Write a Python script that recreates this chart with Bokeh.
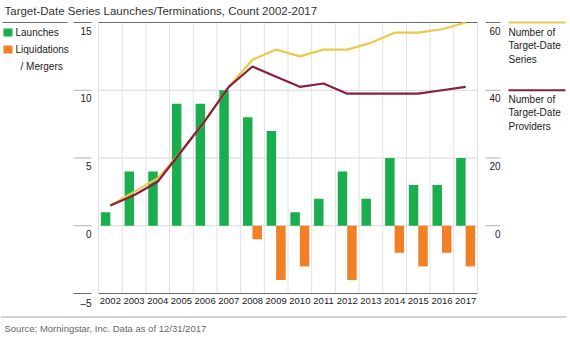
from bokeh.plotting import figure
from bokeh.models import Range1d, Label, BoxAnnotation, ColumnDataSource
from bokeh.core.properties import value
from bokeh.transform import dodge
from bokeh.embed import file_html
from bokeh.resources import INLINE

# ---- data ----
years = ["2002", "2003", "2004", "2005", "2006", "2007", "2008", "2009",
         "2010", "2011", "2012", "2013", "2014", "2015", "2016", "2017"]
launches = [1, 4, 4, 9, 9, 10, 8, 7, 1, 2, 4, 2, 5, 3, 3, 5]
liquidations = [0, 0, 0, 0, 0, 0, -1, -4, -3, 0, -4, 0, -2, -3, -2, -3]
num_series = [6, 10, 14, 22, 31, 41, 49, 52, 50, 52, 52, 54, 57, 57, 58, 60]
num_providers = [6, 9, 13, 22, 31, 41, 47, 44, 41, 42, 39, 39, 39, 39, 40, 41]
left_ticks = [-5, 0, 5, 10, 15]
right_ticks = [0, 20, 40, 60]

title_text = "Target-Date Series Launches/Terminations, Count 2002-2017"
source_text = "Source: Morningstar, Inc. Data as of 12/31/2017"

FONT = "Liberation Sans"
GREEN = "#1aae4f"
ORANGE = "#f07f26"
YELLOW = "#ebc94a"
MAROON = "#8a1f3e"
GRID = "#d6d6d6"
VGRID = "#e2e2e2"
DARK = "#6e6e6e"
TXT = "#222222"

# ---- geometry: the frame covers the whole canvas; the plot area sits inside it ----
W, H = 570, 345
PL, PR, PT, PB = 98, 477, 22, 293
n = len(years)
ymin, ymax = min(left_ticks), max(left_ticks)
rmax = max(right_ticks)
rfac = rmax / ymax
xs = (PR - PL) / n
ys = (PB - PT) / (ymax - ymin)
x_start = -0.5 - PL / xs
x_end = n - 0.5 + (W - PR) / xs
y_end = ymax + PT / ys
y_start = ymin - (H - PB) / ys


def px_x(px):
    return x_start + px / xs


def px_dy(d):
    return d / ys


idx = list(range(n))
src = ColumnDataSource(dict(x=idx, year=years, launches=launches, liq=liquidations,
                            series=num_series, providers=num_providers))

p = figure(width=W, height=H, output_backend="svg", toolbar_location=None,
           x_range=Range1d(x_start, x_end), y_range=Range1d(y_start, y_end),
           x_axis_type=None, y_axis_type=None, min_border=0,
           outline_line_color=None, background_fill_color="white")
p.extra_y_ranges = {"right": Range1d(y_start * rfac, y_end * rfac)}
p.grid.visible = False

lo, hi = -0.5, n - 0.5

# grid
inner = [t for t in left_ticks if ymin < t < ymax]
p.segment(x0=lo, x1=hi, y0=inner, y1=inner, line_color=GRID, line_width=1)
bounds = [i - 0.5 for i in range(n + 1)]
p.segment(x0=bounds, x1=bounds, y0=ymin, y1=ymax, line_color=VGRID, line_width=1)

# bars
p.vbar(x=dodge("x", -0.2, range=p.x_range), top="launches", bottom=0, width=0.4,
       source=src, fill_color=GREEN, line_color=None)
p.vbar(x=dodge("x", 0.2, range=p.x_range), top="liq", bottom=0, width=0.4,
       source=src, fill_color=ORANGE, line_color=None)

# frame top and bottom rules
p.segment(x0=lo, x1=hi, y0=[ymax, ymin], y1=[ymax, ymin], line_color=DARK, line_width=1)

# lines
p.line(x="x", y="series", source=src, y_range_name="right", line_color=YELLOW, line_width=2.2)
p.line(x="x", y="providers", source=src, y_range_name="right", line_color=MAROON, line_width=2.2)

# left axis: rules and labels
tick_cols = [DARK if t in (ymin, ymax) else "#b0b0b0" for t in left_ticks]
p.segment(x0=px_x(73), x1=px_x(91), y0=left_ticks, y1=left_ticks,
          line_color=tick_cols, line_width=1)
p.text(x=px_x(91), y=[t - px_dy(4) for t in left_ticks],
       text=[str(t).replace("-", "\u2013") for t in left_ticks],
       text_align="right", text_baseline="top", text_font=value(FONT),
       text_font_size="10px", text_color=TXT)

# right axis: rules and labels
rcols = [DARK if t == rmax else "#b0b0b0" for t in right_ticks]
p.segment(x0=px_x(485), x1=px_x(500), y0=right_ticks, y1=right_ticks, y_range_name="right",
          line_color=rcols, line_width=1)
p.text(x=px_x(500), y=[t - px_dy(4) * rfac for t in right_ticks], y_range_name="right",
       text=[str(t) for t in right_ticks], text_align="right", text_baseline="top",
       text_font=value(FONT), text_font_size="10px", text_color=TXT)

# category labels
p.text(x=idx, y=ymin - px_dy(4), text=years, text_align="center", text_baseline="top",
       text_font=value(FONT), text_font_size="9.5px", text_color=TXT)

# right legend
p.segment(x0=px_x(508), x1=px_x(565), y0=[rmax, 40], y1=[rmax, 40], y_range_name="right",
          line_color=[YELLOW, MAROON], line_width=2.2)
for lines, top in [(["Number of", "Target-Date", "Series"], 26),
                   (["Number of", "Target-Date", "Providers"], 93)]:
    for k, txt in enumerate(lines):
        p.add_layout(Label(x=508, y=top + 13.5 * k, x_units="canvas", y_units="canvas",
                           text=txt, text_baseline="top", text_font=FONT,
                           text_font_size="10px", text_color=TXT))

# left legend
p.segment(x0=px_x(2), x1=px_x(67), y0=ymax, y1=ymax, line_color=DARK, line_width=1)
for col, top in [(GREEN, 28), (ORANGE, 45)]:
    p.add_layout(BoxAnnotation(left=3, right=12, top=top, bottom=top + 8,
                               left_units="canvas", right_units="canvas",
                               top_units="canvas", bottom_units="canvas",
                               fill_color=col, fill_alpha=1, line_color=None))
for txt, xx, top in [("Launches", 15, 26.5), ("Liquidations", 15, 43.5), ("/ Mergers", 20, 60.5)]:
    p.add_layout(Label(x=xx, y=top, x_units="canvas", y_units="canvas", text=txt,
                       text_baseline="top", text_font=FONT, text_font_size="10px",
                       text_color=TXT))

# title and source
p.add_layout(Label(x=4, y=4.5, x_units="canvas", y_units="canvas", text=title_text,
                   text_baseline="top", text_font=FONT, text_font_size="11.5px",
                   text_color="#333333"))
p.add_layout(BoxAnnotation(left=0, right=566, top=316, bottom=317, left_units="canvas",
                           right_units="canvas", top_units="canvas", bottom_units="canvas",
                           fill_color="#a8a8a8", fill_alpha=1, line_color=None))
p.add_layout(Label(x=4, y=322, x_units="canvas", y_units="canvas", text=source_text,
                   text_baseline="top", text_font=FONT, text_font_size="9.5px",
                   text_color="#666666"))

open("out.html", "w").write(file_html(p, INLINE))
